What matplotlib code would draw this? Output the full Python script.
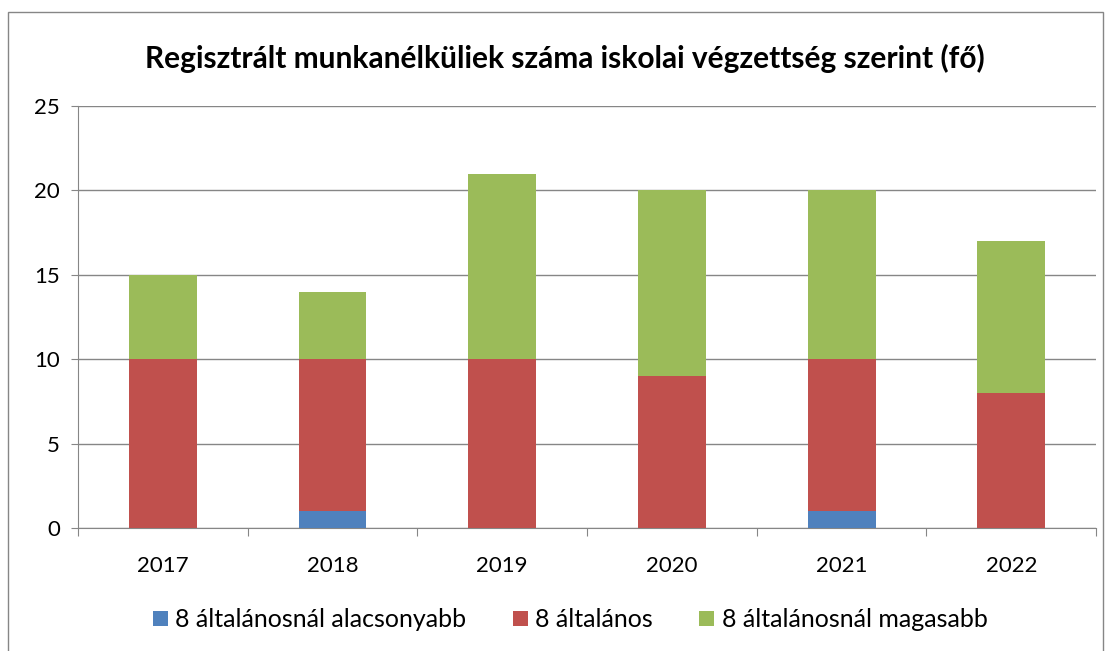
import numpy as np
import matplotlib.pyplot as plt
from matplotlib.patches import Rectangle

years = ["2017", "2018", "2019", "2020", "2021", "2022"]
below8 = [0, 1, 0, 0, 1, 0]
primary8 = [10, 9, 10, 9, 9, 8]
above8 = [5, 4, 11, 11, 10, 9]
labels = ["8 általánosnál alacsonyabb", "8 általános", "8 általánosnál magasabb"]
colors = ["#4F81BD", "#C0504D", "#9BBB59"]

plt.rcParams["font.family"] = ["Lato", "DejaVu Sans"]

fig = plt.figure(figsize=(11.14, 6.51), dpi=100)
ax = fig.add_axes([0.070, 0.189, 0.914, 0.648])

x = np.arange(len(years))
bottom = np.zeros(len(years))
for vals, lab, col in zip([below8, primary8, above8], labels, colors):
    ax.bar(x, vals, width=0.4, bottom=bottom, color=col, label=lab, zorder=3)
    bottom += np.array(vals)

ax.set_xlim(-0.5, len(years) - 0.5)
ax.set_ylim(0, 25)
ax.set_yticks(range(0, 26, 5))
ax.grid(axis="y", color="#868686", linewidth=1, zorder=0)

# category boundary ticks, labels at centers
ax.set_xticks(np.arange(-0.5, len(years)), labels=[""] * (len(years) + 1))
ax.set_xticks(x, labels=years, minor=True)
ax.tick_params(axis="x", which="major", length=6, color="#868686")
ax.tick_params(axis="x", which="minor", length=0, labelsize=16, pad=20)
ax.tick_params(axis="y", length=5, color="#868686", labelsize=16, pad=8)

for side in ["top", "right"]:
    ax.spines[side].set_visible(False)
for side in ["left", "bottom"]:
    ax.spines[side].set_color("#868686")

fig.text(0.507, 0.91, "Regisztrált munkanélküliek száma iskolai végzettség szerint (fő)",
         ha="center", va="center", fontsize=21.5, fontweight="bold")

fig.legend(loc="center", bbox_to_anchor=(0.512, 0.048), ncol=3, frameon=False,
           fontsize=18, handlelength=0.6, handleheight=0.6, columnspacing=1.85,
           handletextpad=0.3)

fig.patches.append(Rectangle((8 / 1114, -0.01), 1095 / 1114, 1 - 12 / 651 + 0.01,
                             transform=fig.transFigure, fill=False,
                             edgecolor="#868686", linewidth=1))

fig.savefig("out.png", dpi=100)
